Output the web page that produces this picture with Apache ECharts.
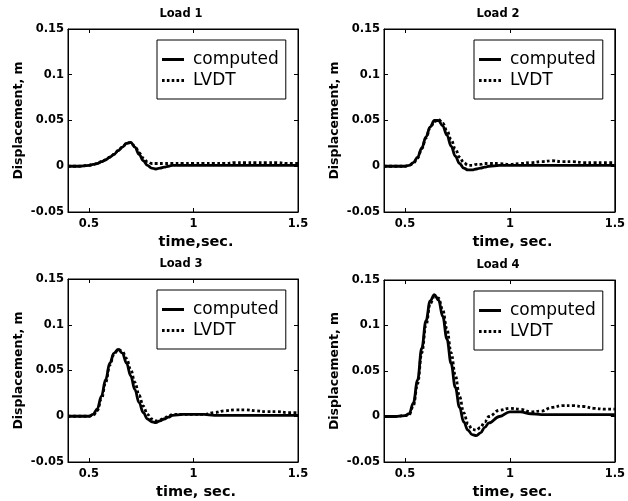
<!DOCTYPE html>
<html>
<head>
<meta charset="utf-8">
<script src="https://cdn.jsdelivr.net/npm/echarts@6/dist/echarts.min.js"></script>
<style>
  html, body { margin: 0; padding: 0; background: #fff; }
  #chart { width: 628px; height: 501px; }
</style>
</head>
<body>
<div id="chart"></div>
<script>
// ---- data ----
const time = [0.4, 0.45, 0.5, 0.52, 0.54, 0.56, 0.58, 0.60, 0.62, 0.64, 0.66, 0.68, 0.70, 0.72, 0.74, 0.76, 0.78, 0.80, 0.82, 0.84, 0.86, 0.88, 0.90,
              0.95, 1.0, 1.05, 1.1, 1.15, 1.2, 1.25, 1.3, 1.35, 1.4, 1.45, 1.5];

const computed1 = [0, 0, 0.001, 0.002, 0.003, 0.005, 0.007, 0.010, 0.013, 0.017, 0.021, 0.025, 0.026, 0.021, 0.013, 0.006, 0.001, -0.002, -0.003, -0.002, -0.001, 0, 0.001,
                   0.001, 0.001, 0.001, 0.001, 0.001, 0.001, 0.001, 0.001, 0.001, 0.001, 0.001, 0.001];
const lvdt1 = [0, 0, 0.001, 0.002, 0.003, 0.005, 0.007, 0.010, 0.013, 0.017, 0.021, 0.025, 0.026, 0.022, 0.015, 0.009, 0.005, 0.003, 0.003, 0.003, 0.003, 0.003, 0.003,
               0.003, 0.003, 0.003, 0.003, 0.003, 0.004, 0.004, 0.004, 0.004, 0.004, 0.003, 0.003];

const computed2 = [0, 0, 0, 0.001, 0.004, 0.010, 0.020, 0.032, 0.043, 0.050, 0.050, 0.044, 0.034, 0.022, 0.011, 0.003, -0.002, -0.004, -0.004, -0.003, -0.002, -0.001, 0,
                   0.001, 0.001, 0.001, 0.001, 0.001, 0.001, 0.001, 0.001, 0.001, 0.001, 0.001, 0.001];
const lvdt2 = [0, 0, 0, 0.001, 0.003, 0.009, 0.019, 0.031, 0.042, 0.049, 0.051, 0.047, 0.039, 0.029, 0.019, 0.010, 0.004, 0.001, 0.001, 0.002, 0.002, 0.003, 0.003,
               0.003, 0.002, 0.003, 0.004, 0.005, 0.006, 0.005, 0.005, 0.004, 0.004, 0.004, 0.004];

const computed3 = [0, 0, 0, 0.002, 0.008, 0.022, 0.040, 0.058, 0.069, 0.073, 0.069, 0.058, 0.044, 0.029, 0.015, 0.004, -0.003, -0.006, -0.007, -0.005, -0.003, -0.001, 0.001,
                   0.002, 0.002, 0.002, 0.001, 0.001, 0.001, 0.001, 0.001, 0.001, 0.001, 0.001, 0.001];
const lvdt3 = [0, 0, 0, 0.001, 0.006, 0.019, 0.037, 0.056, 0.068, 0.073, 0.071, 0.063, 0.051, 0.037, 0.023, 0.011, 0.002, -0.003, -0.005, -0.004, -0.002, 0, 0.002,
               0.002, 0.002, 0.002, 0.004, 0.006, 0.007, 0.007, 0.006, 0.005, 0.005, 0.004, 0.004];

const computed4 = [0, 0, 0.001, 0.003, 0.015, 0.040, 0.075, 0.105, 0.127, 0.134, 0.128, 0.110, 0.085, 0.058, 0.032, 0.010, -0.006, -0.015, -0.020, -0.021, -0.018, -0.012, -0.007,
                   0, 0.005, 0.005, 0.003, 0.002, 0.002, 0.002, 0.002, 0.002, 0.002, 0.002, 0.002];
const lvdt4 = [0, 0, 0.001, 0.002, 0.012, 0.036, 0.070, 0.100, 0.124, 0.132, 0.130, 0.117, 0.096, 0.070, 0.045, 0.022, 0.004, -0.008, -0.014, -0.015, -0.012, -0.006, 0,
               0.007, 0.009, 0.008, 0.005, 0.006, 0.010, 0.012, 0.012, 0.011, 0.009, 0.008, 0.008];

const titles = ['Load 1', 'Load 2', 'Load 3', 'Load 4'];
const xNames = ['time,sec.', 'time, sec.', 'time, sec.', 'time, sec.'];
const yName = 'Displacement, m';
const seriesNames = ['computed', 'LVDT'];
const xTicks = [0.5, 1, 1.5];

// ---- layout ----
const FONT = 'DejaVu Sans';
const grids = [
  { left: 68, top: 29, width: 230, height: 183 },
  { left: 384, top: 29, width: 232, height: 183 },
  { left: 68, top: 279, width: 230, height: 183 },
  { left: 384, top: 280, width: 232, height: 182 }
];
const panels = [
  [computed1, lvdt1], [computed2, lvdt2], [computed3, lvdt3], [computed4, lvdt4]
];
const ICON_SOLID = 'path://M0,0H22V3H0Z';
const ICON_DOTTED = 'path://M0,0h2.6v3h-2.6zM4.85,0h2.6v3h-2.6zM9.7,0h2.6v3h-2.6zM14.55,0h2.6v3h-2.6zM19.4,0h2.6v3h-2.6z';

const xAxes = [], yAxes = [], series = [], legends = [], titleList = [];
grids.forEach((g, i) => {
  const tickCommon = { show: true, inside: true, length: 4, lineStyle: { color: '#000', width: 1 } };
  const lineCommon = { show: true, onZero: false, lineStyle: { color: '#000', width: 1 } };
  xAxes.push({
    type: 'value', gridIndex: i, position: 'bottom', min: 0.4, max: 1.5,
    axisLine: lineCommon,
    axisTick: Object.assign({ customValues: xTicks }, tickCommon),
    axisLabel: { customValues: xTicks, margin: 6, color: '#000', fontFamily: FONT, fontWeight: 'bold', fontSize: 11.5 },
    splitLine: { show: false },
    name: xNames[i], nameLocation: 'middle', nameGap: 23,
    nameTextStyle: { color: '#000', fontFamily: FONT, fontWeight: 'bold', fontSize: 14.5, padding: [0, 0, 0, 26] }
  });
  xAxes.push({
    type: 'value', gridIndex: i, position: 'top', min: 0.4, max: 1.5,
    axisLine: lineCommon,
    axisTick: Object.assign({ customValues: xTicks }, tickCommon),
    axisLabel: { show: false }, splitLine: { show: false }
  });
  yAxes.push({
    type: 'value', gridIndex: i, position: 'left', min: -0.05, max: 0.15, interval: 0.05,
    axisLine: lineCommon,
    axisTick: tickCommon,
    axisLabel: { margin: 4, color: '#000', fontFamily: FONT, fontWeight: 'bold', fontSize: 11.5 },
    splitLine: { show: false },
    name: yName, nameLocation: 'middle', nameGap: 43, nameRotate: 90,
    nameTextStyle: { color: '#000', fontFamily: FONT, fontWeight: 'bold', fontSize: 12.5 }
  });
  yAxes.push({
    type: 'value', gridIndex: i, position: 'right', min: -0.05, max: 0.15, interval: 0.05,
    axisLine: lineCommon,
    axisTick: tickCommon,
    axisLabel: { show: false }, splitLine: { show: false }
  });
  const [comp, lv] = panels[i];
  series.push({
    name: seriesNames[0], type: 'line', xAxisIndex: 2 * i, yAxisIndex: 2 * i,
    data: time.map((x, k) => [x, comp[k]]),
    symbol: 'none', smooth: 0.4, smoothMonotone: 'x',
    lineStyle: { color: '#000', width: 2.8 }, itemStyle: { color: '#000' },
    z: 3
  });
  series.push({
    name: seriesNames[1], type: 'line', xAxisIndex: 2 * i, yAxisIndex: 2 * i,
    data: time.map((x, k) => [x, lv[k]]),
    symbol: 'none', smooth: 0.4, smoothMonotone: 'x',
    lineStyle: { color: '#000', width: 2.8, type: [2.8, 2.4] }, itemStyle: { color: '#000' },
    z: 2
  });
  legends.push({
    orient: 'vertical',
    left: g.left + (i % 2 === 0 ? 89 : 90), top: g.top + 11,
    itemWidth: 22, itemHeight: 3, itemGap: 4,
    padding: [11, 7, 10, 5],
    borderColor: '#000', borderWidth: 1, borderRadius: 0,
    backgroundColor: '#fff',
    selectedMode: false,
    itemStyle: { color: '#000', borderWidth: 0 },
    data: [
      { name: seriesNames[0], icon: ICON_SOLID },
      { name: seriesNames[1], icon: ICON_DOTTED }
    ],
    textStyle: { color: '#000', fontFamily: FONT, fontSize: 17, lineHeight: 16, padding: [0, 0, 0, 4] }
  });
  titleList.push({
    text: titles[i], left: g.left + g.width / 2 - 2, top: g.top - 21, textAlign: 'center', padding: 0,
    textStyle: { color: '#000', fontFamily: FONT, fontWeight: 'bold', fontSize: 11.5 }
  });
});

const chart = echarts.init(document.getElementById('chart'), null, { renderer: 'canvas' });
chart.setOption({
  animation: false,
  backgroundColor: '#fff',
  title: titleList,
  legend: legends,
  grid: grids.map(g => Object.assign({ show: true, borderColor: '#000', borderWidth: 1, backgroundColor: 'transparent', containLabel: false }, g)),
  xAxis: xAxes,
  yAxis: yAxes,
  series: series
});
</script>
</body>
</html>
